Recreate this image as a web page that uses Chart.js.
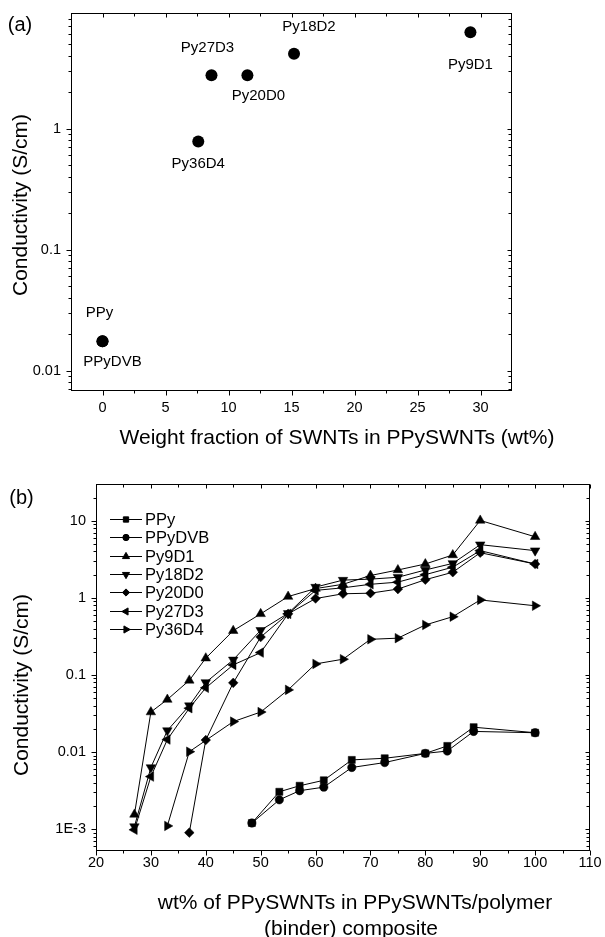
<!DOCTYPE html>
<html>
<head>
<meta charset="utf-8">
<script src="https://cdn.jsdelivr.net/npm/chart.js@4.4.1/dist/chart.umd.min.js"></script>
<style>
  html, body { margin: 0; padding: 0; background: #fff; }
  #wrapA { position: absolute; left: 0; top: 0; }
  #wrapB { position: absolute; left: 0; top: 455px; }
</style>
</head>
<body>
<div id="wrapA"><canvas id="chartA" width="605" height="455"></canvas></div>
<div id="wrapB"><canvas id="chartB" width="605" height="482"></canvas></div>
<script>
const FONT = '"Liberation Sans", Arial, Helvetica, sans-serif';

// --- panel (a): conductivity vs SWNT weight fraction ---
const samplesA = ['PPy', 'PPyDVB', 'Py9D1', 'Py18D2', 'Py20D0', 'Py27D3', 'Py36D4'];
const swntWtA = [0, 0, 29.2, 15.2, 11.5, 8.65, 7.6];
const condA = [0.0175, 0.0175, 6.25, 4.15, 2.75, 2.75, 0.78];
const xTicksA = [0, 5, 10, 15, 20, 25, 30];
const yTicksA = [0.01, 0.1, 1];
const yTickLabelsA = ['0.01', '0.1', '1'];
// label offset from its point (px)
const labelOffsetA = [[-3, -28], [10, 21], [0, 33], [15, -27], [11, 21], [-4, -27], [0, 22]];

// --- panel (b): conductivity vs PPySWNT content in composite ---
const seriesB = ['PPy', 'PPyDVB', 'Py9D1', 'Py18D2', 'Py20D0', 'Py27D3', 'Py36D4'];
const wtPPy = [48.4, 53.4, 57.1, 61.5, 66.6, 72.6, 80, 84, 88.8, 100];
const wtPy = [27, 30, 33, 37, 40, 45, 50, 55, 60, 65, 70, 75, 80, 85, 90, 100];
const wtPy20 = [37, 40, 45, 50, 55, 60, 65, 70, 75, 80, 85, 90, 100];
const wtPy36 = [33, 37, 45, 50, 55, 60, 65, 70, 75, 80, 85, 90, 100];

const condPPy    = [0.0012, 0.00305, 0.00365, 0.0043, 0.0079, 0.0083, 0.0096, 0.012, 0.021, 0.0178];
const condPPyDVB = [0.0012, 0.0024, 0.00315, 0.0035, 0.0063, 0.0073, 0.0096, 0.0103, 0.0185, 0.0178];
const condPy9D1  = [0.00155, 0.033, 0.048, 0.085, 0.165, 0.375, 0.62, 1.04, 1.32, 1.5, 1.95, 2.3, 2.75, 3.6, 10.1, 6.2];
const condPy18D2 = [0.00108, 0.0063, 0.019, 0.040, 0.080, 0.157, 0.38, 0.63, 1.38, 1.7, 1.75, 1.85, 2.3, 2.8, 4.9, 4.1];
const condPy20D0 = [0.0009, 0.0143, 0.079, 0.31, 0.62, 0.98, 1.13, 1.15, 1.3, 1.72, 2.15, 3.85, 2.75];
const condPy27D3 = [0.00098, 0.0048, 0.0145, 0.037, 0.068, 0.135, 0.195, 0.62, 1.25, 1.35, 1.5, 1.6, 2.0, 2.5, 4.1, 2.75];
const condPy36D4 = [0.0011, 0.0101, 0.0248, 0.033, 0.064, 0.139, 0.16, 0.29, 0.30, 0.445, 0.57, 0.94, 0.79];

const xTicksB = [20, 30, 40, 50, 60, 70, 80, 90, 100, 110];
const yTicksB = [0.001, 0.01, 0.1, 1, 10];
const yTickLabelsB = ['1E-3', '0.01', '0.1', '1', '10'];

// marker look per series
const markerB = [
  { style: 'rect', r: 5, rot: 0 },
  { style: 'circle', r: 4.2, rot: 0 },
  { style: 'triangle', r: 5.5, rot: 0 },
  { style: 'triangle', r: 5.5, rot: 180 },
  { style: 'rectRot', r: 4.8, rot: 0 },
  { style: 'triangle', r: 5.5, rot: 270 },
  { style: 'triangle', r: 5.5, rot: 90 }
];

Chart.defaults.font.family = FONT;
Chart.defaults.color = '#000';

// --- helpers ---
function pts(xs, ys) {
  return xs.map((x, i) => ({ x, y: ys[i] }));
}

function logMinors(min, max) {
  const out = [];
  for (let e = Math.floor(Math.log10(min)); e <= Math.ceil(Math.log10(max)); e++) {
    for (let m = 2; m <= 9; m++) {
      const v = m * Math.pow(10, e);
      if (v > min && v < max) out.push(v);
    }
  }
  return out;
}

function linMinors(min, max, step) {
  const out = [];
  for (let v = Math.ceil(min / step) * step; v < max; v += step) {
    if (v > min) out.push(v);
  }
  return out;
}

function drawText(ctx, s, x, y, size, rot) {
  ctx.save();
  ctx.translate(x, y);
  if (rot) ctx.rotate(rot);
  ctx.font = size + 'px ' + FONT;
  ctx.fillStyle = '#000';
  ctx.textAlign = 'center';
  ctx.textBaseline = 'middle';
  ctx.fillText(s, 0, 0);
  ctx.restore();
}

// fixed axis box sizes, no extra label padding
function fixAxis(w, h) {
  return s => {
    if (w) s.width = w;
    if (h) s.height = h;
    s.paddingTop = 0; s.paddingBottom = 0;
    s.paddingLeft = 0; s.paddingRight = 0;
  };
}

// frame + tick marks on all four sides
const frameTicks = {
  id: 'frameTicks',
  afterDatasetsDraw(chart, args, o) {
    const { ctx, chartArea: a, scales: { x, y } } = chart;
    const L = Math.round(a.left) + 0.5, R = Math.round(a.right) - 0.5;
    const T = Math.round(a.top) + 0.5, B = Math.round(a.bottom) - 0.5;
    ctx.save();
    ctx.strokeStyle = '#000';
    ctx.lineWidth = 1;
    ctx.strokeRect(L, T, R - L, B - T);
    ctx.beginPath();
    const xt = (v, len, lenTop) => {
      const p = Math.round(x.getPixelForValue(v)) + 0.5;
      ctx.moveTo(p, B); ctx.lineTo(p, B + len);
      ctx.moveTo(p, T); ctx.lineTo(p, T + lenTop);
    };
    const yt = (v, len, lenRight) => {
      const p = Math.round(y.getPixelForValue(v)) + 0.5;
      ctx.moveTo(L, p); ctx.lineTo(L - len, p);
      ctx.moveTo(R, p); ctx.lineTo(R - lenRight, p);
    };
    o.xMajor.forEach(v => xt(v, 5, 4));
    linMinors(x.min, x.max, o.xMinorStep).filter(v => !o.xMajor.includes(v)).forEach(v => xt(v, 3, 3));
    o.yMajor.forEach(v => yt(v, 5, 4));
    logMinors(y.min, y.max).forEach(v => yt(v, 3, 3));
    ctx.stroke();
    ctx.restore();
  }
};

// free text: panel letter and axis titles
const freeText = {
  id: 'freeText',
  afterDraw(chart, args, o) {
    o.items.forEach(t => drawText(chart.ctx, t.text, t.x, t.y, t.size, t.rot));
  }
};

// sample names next to the points of panel (a)
const pointNames = {
  id: 'pointNames',
  afterDatasetsDraw(chart) {
    const { ctx, scales: { x, y } } = chart;
    samplesA.forEach((name, i) => {
      const px = x.getPixelForValue(swntWtA[i]) + labelOffsetA[i][0];
      const py = y.getPixelForValue(condA[i]) + labelOffsetA[i][1];
      drawText(ctx, name, px, py, 15);
    });
  }
};

// legend of panel (b): line - marker - line, then name
const lineLegend = {
  id: 'lineLegend',
  afterDraw(chart) {
    const { ctx, chartArea: a } = chart;
    const x0 = a.left + 14, y0 = a.top + 35, row = 18.33;
    ctx.save();
    seriesB.forEach((name, i) => {
      const yy = Math.round(y0 + i * row) + 0.5;
      ctx.strokeStyle = '#000';
      ctx.fillStyle = '#000';
      ctx.lineWidth = 1;
      ctx.beginPath();
      ctx.moveTo(x0, yy); ctx.lineTo(x0 + 32, yy);
      ctx.stroke();
      Chart.helpers.drawPoint(ctx, {
        pointStyle: markerB[i].style,
        rotation: markerB[i].rot,
        radius: markerB[i].r * 0.75,
        borderWidth: 1
      }, x0 + 16, yy);
      ctx.font = '16.5px ' + FONT;
      ctx.textAlign = 'left';
      ctx.textBaseline = 'middle';
      ctx.fillText(name, x0 + 35, yy + 1);
    });
    ctx.restore();
  }
};

const tickFont = { size: 14.5, family: FONT };

// --- panel (a) ---
new Chart(document.getElementById('chartA'), {
  type: 'scatter',
  data: {
    datasets: [{
      data: pts(swntWtA, condA),
      pointRadius: 6,
      pointHoverRadius: 6,
      pointBackgroundColor: '#000',
      pointBorderColor: '#000',
      pointBorderWidth: 0
    }]
  },
  options: {
    responsive: false,
    animation: false,
    events: [],
    layout: { padding: { left: 0, right: 93, top: 13, bottom: 0 } },
    plugins: {
      legend: { display: false },
      tooltip: { enabled: false },
      frameTicks: { xMajor: xTicksA, xMinorStep: 2.5, yMajor: yTicksA },
      freeText: {
        items: [
          { text: '(a)', x: 20, y: 25, size: 20 },
          { text: 'Conductivity (S/cm)', x: 21, y: 205, size: 21, rot: -Math.PI / 2 },
          { text: 'Weight fraction of SWNTs in PPySWNTs (wt%)', x: 337, y: 438, size: 21 }
        ]
      }
    },
    scales: {
      x: {
        type: 'linear',
        min: -2.5,
        max: 32.5,
        afterFit: fixAxis(0, 64),
        afterBuildTicks: s => { s.ticks = xTicksA.map(v => ({ value: v })); },
        ticks: { padding: 8, font: tickFont, color: '#000', maxRotation: 0, callback: v => String(v) },
        grid: { display: false, drawTicks: false },
        border: { display: false }
      },
      y: {
        type: 'logarithmic',
        min: 0.0068,
        max: 9,
        afterFit: fixAxis(71, 0),
        afterBuildTicks: s => { s.ticks = yTicksA.map(v => ({ value: v })); },
        ticks: { padding: 10, font: tickFont, color: '#000', callback: v => yTickLabelsA[yTicksA.indexOf(v)] },
        grid: { display: false, drawTicks: false },
        border: { display: false }
      }
    }
  },
  plugins: [frameTicks, pointNames, freeText]
});

// --- panel (b) ---
const xsB = [wtPPy, wtPPy, wtPy, wtPy, wtPy20, wtPy, wtPy36];
const ysB = [condPPy, condPPyDVB, condPy9D1, condPy18D2, condPy20D0, condPy27D3, condPy36D4];

new Chart(document.getElementById('chartB'), {
  type: 'line',
  data: {
    datasets: seriesB.map((name, i) => ({
      label: name,
      data: pts(xsB[i], ysB[i]),
      borderColor: '#000',
      borderWidth: 1,
      backgroundColor: '#000',
      fill: false,
      tension: 0,
      pointStyle: markerB[i].style,
      pointRotation: markerB[i].rot,
      pointRadius: markerB[i].r,
      pointHoverRadius: markerB[i].r,
      pointBackgroundColor: '#000',
      pointBorderColor: '#000',
      pointBorderWidth: 0.5
    }))
  },
  options: {
    responsive: false,
    animation: false,
    events: [],
    layout: { padding: { left: 0, right: 15, top: 29, bottom: 0 } },
    plugins: {
      legend: { display: false },
      tooltip: { enabled: false },
      frameTicks: { xMajor: xTicksB, xMinorStep: 5, yMajor: yTicksB },
      freeText: {
        items: [
          { text: '(b)', x: 21.5, y: 43.5, size: 20 },
          { text: 'Conductivity (S/cm)', x: 22, y: 230, size: 21, rot: -Math.PI / 2 },
          { text: 'wt% of PPySWNTs in PPySWNTs/polymer', x: 355, y: 448, size: 21 },
          { text: '(binder) composite', x: 351, y: 474, size: 21 }
        ]
      }
    },
    scales: {
      x: {
        type: 'linear',
        min: 20,
        max: 110,
        afterFit: fixAxis(0, 86),
        afterBuildTicks: s => { s.ticks = xTicksB.map(v => ({ value: v })); },
        ticks: { padding: 3, font: tickFont, color: '#000', maxRotation: 0, callback: v => String(v) },
        grid: { display: false, drawTicks: false },
        border: { display: false }
      },
      y: {
        type: 'logarithmic',
        min: 0.00052,
        max: 30,
        afterFit: fixAxis(96, 0),
        afterBuildTicks: s => { s.ticks = yTicksB.map(v => ({ value: v })); },
        ticks: { padding: 10, font: tickFont, color: '#000', callback: v => yTickLabelsB[yTicksB.indexOf(v)] },
        grid: { display: false, drawTicks: false },
        border: { display: false }
      }
    }
  },
  plugins: [frameTicks, lineLegend, freeText]
});
</script>
</body>
</html>
